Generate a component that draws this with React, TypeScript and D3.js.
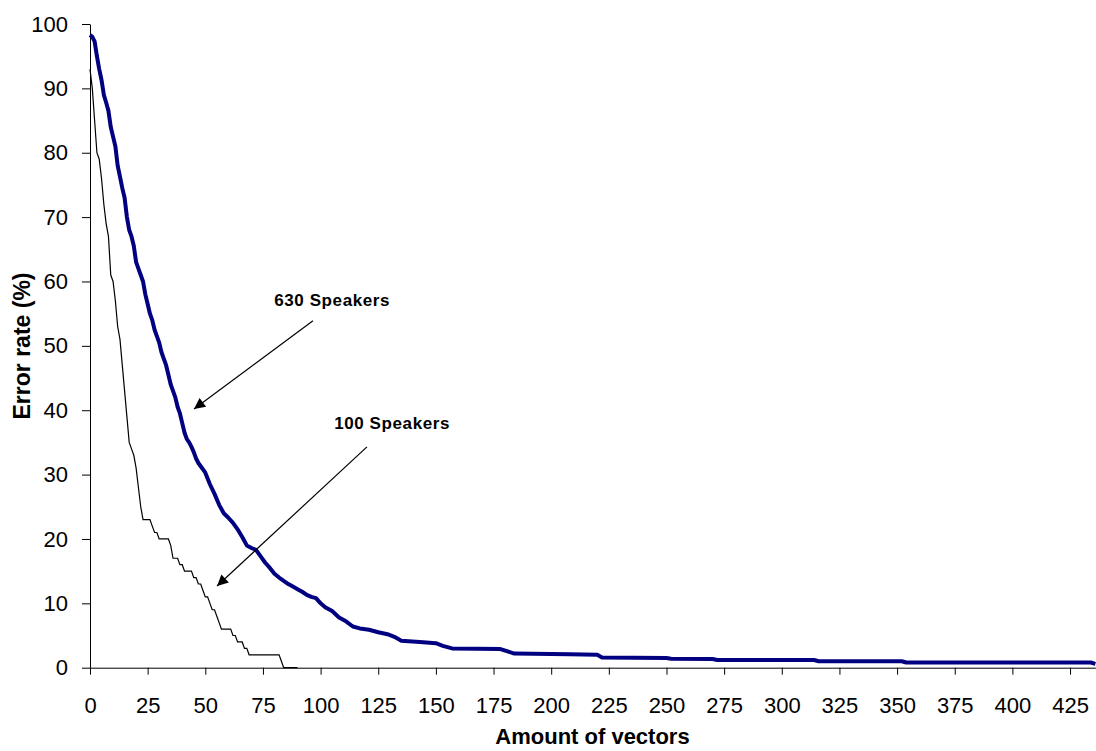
import React, { useEffect, useRef } from 'react'
import { select, scaleLinear, axisBottom, axisLeft, line } from 'd3'

// 630 speakers curve, [amount of vectors, error %]
const x630 = [0, 1, 2, 3, 4, 5, 6, 7, 8, 9, 10, 11, 12, 13, 14, 15, 16, 17, 18, 19, 20, 21, 22, 23, 24, 25, 26, 27, 28, 29, 30, 31, 32, 33, 34, 35, 36, 37, 38, 39, 40, 41, 42, 43, 44, 45, 46, 47, 48, 49, 50, 52, 54, 56, 58, 60, 62, 64, 66, 68, 70, 72, 74, 76, 78, 80, 82, 84, 86, 88, 90, 92, 94, 96, 98, 100, 102, 105, 108, 111, 114, 117, 121, 125, 129, 132, 135, 143, 150, 153, 157, 178, 184, 208, 220, 222, 250, 252, 270, 272, 314, 316, 352, 354, 434, 436]
const y630 = [98.3, 98, 97.3, 95, 93, 91.3, 89, 87.8, 86.5, 84, 82.5, 81, 78, 76.3, 74.5, 73, 70, 68, 67, 65.5, 63, 62, 61, 60, 58, 56.5, 55, 54, 52.5, 51.5, 50.5, 49, 48, 47, 45.5, 44, 43, 42, 40.5, 39.5, 38, 36.5, 35.5, 35, 34.3, 33.5, 32.5, 31.8, 31.3, 30.8, 30.3, 28.5, 27, 25.3, 24, 23.3, 22.5, 21.5, 20.3, 19, 18.6, 18.3, 17.3, 16.3, 15.5, 14.6, 14, 13.5, 13, 12.6, 12.2, 11.8, 11.3, 11, 10.8, 10, 9.4, 8.8, 7.8, 7.2, 6.4, 6.1, 5.9, 5.5, 5.2, 4.8, 4.2, 4, 3.8, 3.4, 3, 2.9, 2.2, 2.1, 2, 1.6, 1.5, 1.4, 1.35, 1.2, 1.2, 1, 1, 0.8, 0.8, 0.6]

// 100 speakers curve
const x100 = [0, 1, 2, 3, 4, 5, 6, 7, 8, 9, 10, 11, 12, 13, 14, 15, 16, 17, 18, 19, 20, 21, 22, 23, 24, 25, 26, 27, 28, 29, 30, 31, 32, 33, 34, 35, 36, 37, 38, 39, 40, 41, 42, 43, 44, 45, 46, 47, 48, 49, 50, 51, 52, 53, 54, 55, 56, 57, 58, 59, 60, 61, 62, 63, 64, 65, 66, 67, 68, 69, 70, 82, 83, 84, 90]
const y100 = [93, 90, 85, 80, 79, 76, 72, 69, 67, 61, 60, 57, 53, 51, 47, 43, 39, 35, 34, 33, 31, 28, 25, 23, 23, 23, 23, 22, 21, 21, 20, 20, 20, 20, 20, 19, 17, 17, 17, 16, 16, 15, 15, 15, 15, 14, 14, 13, 13, 12, 11, 11, 10, 9, 9, 8, 7, 6, 6, 6, 6, 6, 5, 5, 4, 4, 4, 3, 3, 2, 2, 2, 1, 0, 0]

const xTicks = [0, 25, 50, 75, 100, 125, 150, 175, 200, 225, 250, 275, 300, 325, 350, 375, 400, 425]
const yTicks = [0, 10, 20, 30, 40, 50, 60, 70, 80, 90, 100]

// annotations: label, label pos, arrow start, arrow tip (data units)
const notes = [
  { text: '630 Speakers', lx: 105, ly: 56.2, x1: 96.7, y1: 53.9, x2: 45.1, y2: 40.2 },
  { text: '100 Speakers', lx: 131, ly: 37.1, x1: 120.1, y1: 34.3, x2: 55.1, y2: 12.7 },
]

const font = "Arial, 'Liberation Sans', sans-serif"

export default function App() {
  const svgRef = useRef<SVGSVGElement>(null)
  const width = 1096
  const height = 751

  useEffect(() => {
    document.body.style.margin = '0'
    const svg = select(svgRef.current)
    svg.selectAll('*').remove()

    const xScale = scaleLinear().domain([0, 436]).range([90, 1095.4])
    const yScale = scaleLinear().domain([0, 100]).range([667.7, 24])

    const defs = svg.append('defs')
    defs.append('marker')
      .attr('id', 'arrow')
      .attr('viewBox', '0 0 10 10')
      .attr('refX', 10)
      .attr('refY', 5)
      .attr('markerWidth', 13)
      .attr('markerHeight', 11)
      .attr('markerUnits', 'userSpaceOnUse')
      .attr('orient', 'auto')
      .append('path')
      .attr('d', 'M0,0 L10,5 L0,10 Z')
      .attr('fill', '#000')

    const yAxis = axisLeft(yScale).tickValues(yTicks).tickSize(8).tickSizeOuter(0).tickPadding(14)
    const gy = svg.append('g').attr('transform', 'translate(90,0)').call(yAxis)
    gy.selectAll('text').attr('font-size', 22).attr('font-family', font).attr('fill', '#000')

    const xAxis = axisBottom(xScale).tickValues(xTicks).tickSize(7).tickSizeOuter(0).tickPadding(23)
    const gx = svg.append('g').attr('transform', 'translate(0,667.7)').call(xAxis)
    gx.selectAll('text').attr('font-size', 22).attr('font-family', font).attr('fill', '#000')

    const lineGen = line<[number, number]>()
      .x(d => xScale(d[0]))
      .y(d => yScale(d[1]))

    svg.append('path')
      .datum(x100.map((x, i) => [x, y100[i]] as [number, number]))
      .attr('d', lineGen)
      .attr('fill', 'none')
      .attr('stroke', '#000')
      .attr('stroke-width', 1.2)

    svg.append('path')
      .datum(x630.map((x, i) => [x, y630[i]] as [number, number]))
      .attr('d', lineGen)
      .attr('fill', 'none')
      .attr('stroke', '#000080')
      .attr('stroke-width', 4)
      .attr('stroke-linejoin', 'round')

    notes.forEach(n => {
      svg.append('line')
        .attr('x1', xScale(n.x1)).attr('y1', yScale(n.y1))
        .attr('x2', xScale(n.x2)).attr('y2', yScale(n.y2))
        .attr('stroke', '#000')
        .attr('stroke-width', 1.2)
        .attr('marker-end', 'url(#arrow)')
      svg.append('text')
        .attr('x', xScale(n.lx)).attr('y', yScale(n.ly))
        .attr('text-anchor', 'middle')
        .attr('font-family', font)
        .attr('font-weight', 'bold')
        .attr('font-size', 17)
        .attr('letter-spacing', 0.6)
        .text(n.text)
    })

    svg.append('text')
      .attr('x', (90 + 1095) / 2).attr('y', 744)
      .attr('text-anchor', 'middle')
      .attr('font-family', font)
      .attr('font-weight', 'bold')
      .attr('font-size', 22)
      .text('Amount of vectors')

    svg.append('text')
      .attr('transform', 'translate(30,346) rotate(-90)')
      .attr('text-anchor', 'middle')
      .attr('font-family', font)
      .attr('font-weight', 'bold')
      .attr('font-size', 23)
      .text('Error rate (%)')
  }, [])

  return (
    <div style={{ width, height }}>
      <svg ref={svgRef} width={width} height={height} style={{ display: 'block', background: '#fff' }} />
    </div>
  )
}
